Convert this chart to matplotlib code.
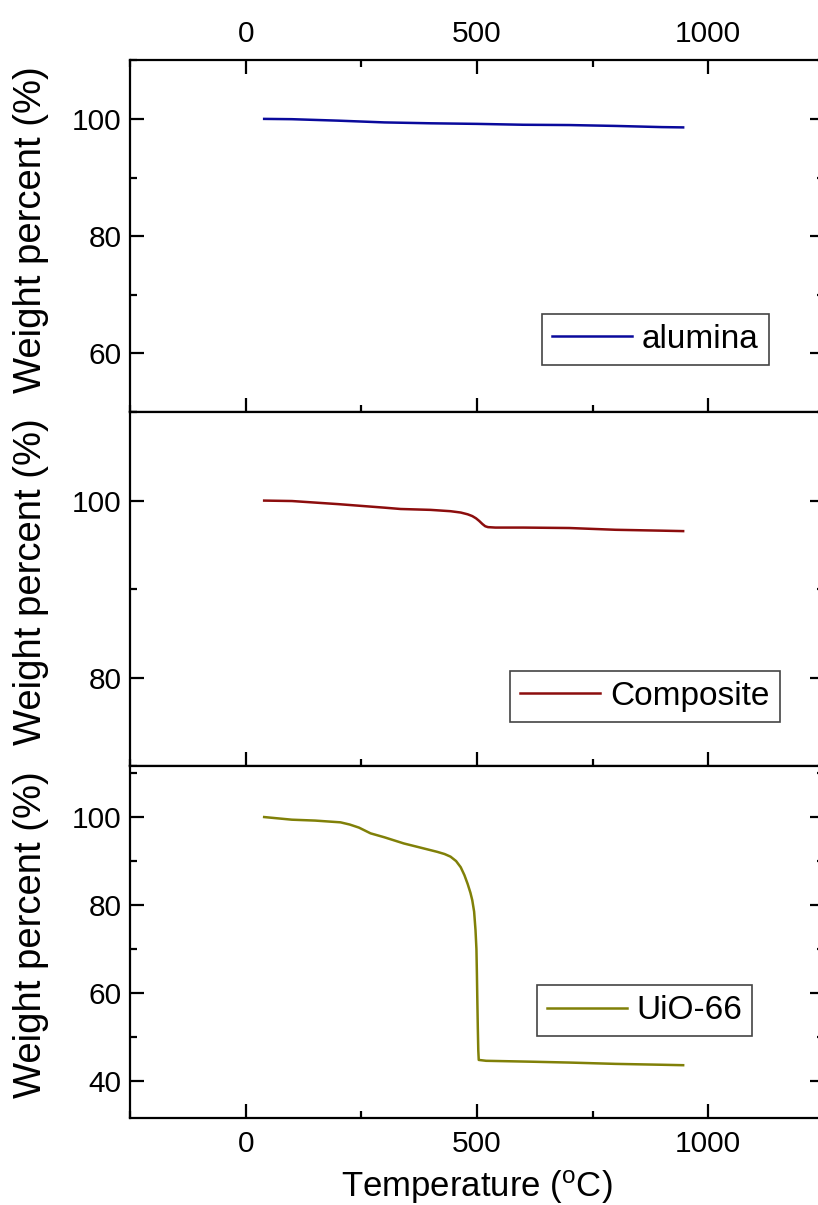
import matplotlib
matplotlib.use("Agg")
import matplotlib.pyplot as plt
from matplotlib.ticker import MultipleLocator

plt.rcParams['font.family'] = ['Liberation Sans', 'DejaVu Sans']

# TGA curves (temperature in C, weight in %)
alumina_t = [40, 100, 200, 300, 400, 500, 600, 700, 800, 900, 946]
alumina_w = [100, 99.95, 99.7, 99.4, 99.25, 99.15, 99.0, 98.95, 98.8, 98.6, 98.55]

composite_t = [40, 100, 200, 300, 335, 400, 443, 465, 480, 490, 498, 505, 512,
               518, 524, 540, 600, 700, 800, 900, 946]
composite_w = [100, 99.95, 99.6, 99.2, 99.05, 98.95, 98.8, 98.65, 98.45, 98.25,
               98.0, 97.7, 97.35, 97.1, 97.0, 96.95, 96.95, 96.9, 96.7, 96.6, 96.55]

uio_t = [40, 100, 150, 205, 225, 245, 270, 300, 342, 380, 414, 430, 443, 455,
         465, 473, 480, 486, 490, 494, 497, 499, 500, 501, 502, 503, 504, 520,
         616, 700, 800, 900, 946]
uio_w = [100, 99.4, 99.2, 98.8, 98.3, 97.6, 96.3, 95.4, 94.0, 93.0, 92.1, 91.6,
         91.0, 90.0, 88.6, 86.8, 84.8, 82.8, 81.1, 78.5, 74.3, 70, 64.5, 58,
         52, 47, 44.8, 44.6, 44.4, 44.2, 43.9, 43.7, 43.6]

labels = ['alumina', 'Composite', 'UiO-66']
colors = ['#0a0a9c', '#8c0d0d', '#808008']
ylims = [(50, 110), (70, 110), (31.6, 111.6)]
yticks = [[60, 80, 100], [80, 100], [40, 60, 80, 100]]
legend_anchor = [(0.594, 0.134), (0.548, 0.124), (0.586, 0.232)]

fig = plt.figure(figsize=(8.18, 12.05), dpi=100)
boxes = [[0.159, 0.658, 0.848, 0.292],
         [0.159, 0.3643, 0.848, 0.2937],
         [0.159, 0.0722, 0.848, 0.2921]]
data = [(alumina_t, alumina_w), (composite_t, composite_w), (uio_t, uio_w)]

for i, box in enumerate(boxes):
    ax = fig.add_axes(box)
    t, w = data[i]
    ax.plot(t, w, color=colors[i], lw=1.8, label=labels[i])
    ax.set_xlim(-250, 1250)
    ax.set_ylim(*ylims[i])
    ax.set_yticks(yticks[i])
    ax.yaxis.set_minor_locator(MultipleLocator(10))
    ax.set_xticks([0, 500, 1000])
    ax.xaxis.set_minor_locator(MultipleLocator(250))
    for s in ax.spines.values():
        s.set_linewidth(1.6)
    ax.tick_params(which='both', direction='in', width=1.6, labelsize=21.5,
                   right=True, top=(i == 0), bottom=True)
    ax.tick_params(axis='y', pad=6)
    ax.tick_params(axis='x', pad=9)
    ax.tick_params(which='major', length=10)
    ax.tick_params(which='minor', length=5)
    if i == 0:
        ax.tick_params(labeltop=True, labelbottom=False)
    elif i == 1:
        ax.tick_params(labelbottom=False)
    else:
        ax.set_xlabel('Temperature ($\\mathregular{^{o}}$C)', fontsize=25, labelpad=7)
    ax.set_ylabel('Weight percent (%)', fontsize=27.5)
    ax.yaxis.set_label_coords(-0.117, 0.52)
    leg = ax.legend(loc='lower left', bbox_to_anchor=legend_anchor[i],
                    fontsize=24, frameon=True, fancybox=False, framealpha=1,
                    edgecolor='#444444', handlelength=2.4, handletextpad=0.3,
                    borderpad=0.3, borderaxespad=0)
    leg.get_frame().set_linewidth(1.2)

fig.savefig('out.png', dpi=100)
